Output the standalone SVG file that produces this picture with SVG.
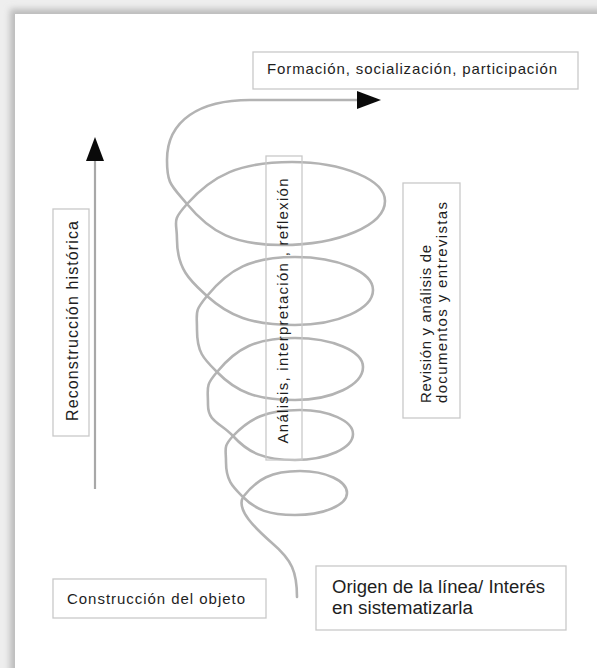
<svg xmlns="http://www.w3.org/2000/svg" width="597" height="668" viewBox="0 0 597 668">
<defs>
<style>
.box{fill:#ffffff;stroke:#c9c9c9;stroke-width:1.3}
.open{fill:none}
.t{font-family:"Liberation Sans",Arial,sans-serif;fill:#1e1e1e}
.wire{fill:none;stroke:#b3b3b3;stroke-width:2.6;stroke-linecap:round;stroke-linejoin:round}
.axis{fill:none;stroke:#a8a8a8;stroke-width:2.2}
</style>
<marker id="head" markerUnits="userSpaceOnUse" markerWidth="24" markerHeight="18" refX="0" refY="9" orient="auto" viewBox="0 0 24 18">
<path d="M0,0 L24,9 L0,18 z" fill="#0a0a0a"/>
</marker>
<filter id="shadow" x="-5%" y="-5%" width="110%" height="110%">
<feGaussianBlur stdDeviation="3"/>
</filter>
</defs>
<rect x="0" y="0" width="597" height="668" fill="#eeeeee"/>
<rect x="10" y="9" width="600" height="700" fill="#bcbcbc" filter="url(#shadow)"/>
<rect x="15" y="14" width="600" height="700" fill="#ffffff"/>

<g id="connectors">
<path class="wire" marker-end="url(#head)" d="M297,597 C297,572 292,560 272,543 C255,528 236,510 243,497
C257,479 271.5,471 300,471 C326,471 347,481 347,493 C347,505 324,515 295,515 C269,515 256,510 243,497
C233,487 226,481 226,462 C226,448 223,447 233,436
C250,418 266.5,410 300,410 C329,410 353,421 353,434 C353,448 327,460 295,460 C264,460 248.5,453 233,436
C221,423 208,422 208,405 C208,387 205,386 217,372
C236.5,348 256,338 295,338 C332,338 363,351 363,367 C363,385 332,400 295,400 C256,400 236.5,392 217,372
C204,359 197,353 197,330 C197,311 194,312 207,296
C229,269 251,257 295,257 C338,257 373,272 373,290 C373,309 338,325 295,325 C251,325 229,316 207,296
C193,283 177,271 177,240 C177,220 171,222 187,204
C213,175 239.5,162 292,162 C343,162 385,180 385,201 C385,225 339,245 282,245 C234.5,245 211,233 187,204
C171,185 167,184 167,160 C167,120 200,100 250,100 L357,100"/>
<path class="axis" marker-end="url(#head)" d="M95,489 L95,161"/>
</g>

<g id="node-formacion">
<rect class="box" x="253" y="52" width="325" height="37"/>
<text class="t" x="267" y="74" font-size="15" textLength="290" lengthAdjust="spacing">Formación, socialización, participación</text>
</g>

<g id="node-reconstruccion">
<rect class="box" x="53" y="209" width="36" height="227"/>
<text class="t" font-size="16" text-anchor="middle" textLength="200" lengthAdjust="spacing" transform="translate(78,321) rotate(-90)">Reconstrucción histórica</text>
</g>

<g id="node-analisis">
<rect class="box open" x="266" y="156" width="36" height="304"/>
<text class="t" font-size="15" text-anchor="middle" textLength="265" lengthAdjust="spacing" transform="translate(288,311) rotate(-90)">Análisis, interpretación , reflexión</text>
</g>

<g id="node-revision">
<rect class="box" x="403" y="183" width="57" height="235"/>
<text class="t" font-size="15" textLength="158" lengthAdjust="spacing" transform="translate(431,403) rotate(-90)">Revisión y análisis de</text>
<text class="t" font-size="15" textLength="201" lengthAdjust="spacing" transform="translate(447,403) rotate(-90)">documentos y entrevistas</text>
</g>

<g id="node-construccion">
<rect class="box" x="53" y="579" width="213" height="39"/>
<text class="t" x="67" y="604" font-size="15" textLength="178" lengthAdjust="spacing">Construcción del objeto</text>
</g>

<g id="node-origen">
<rect class="box" x="316" y="566" width="250" height="64"/>
<text class="t" x="332" y="593" font-size="18" textLength="213" lengthAdjust="spacingAndGlyphs">Origen de la línea/ Interés</text>
<text class="t" x="332" y="614" font-size="18" textLength="141" lengthAdjust="spacingAndGlyphs">en sistematizarla</text>
</g>
</svg>
